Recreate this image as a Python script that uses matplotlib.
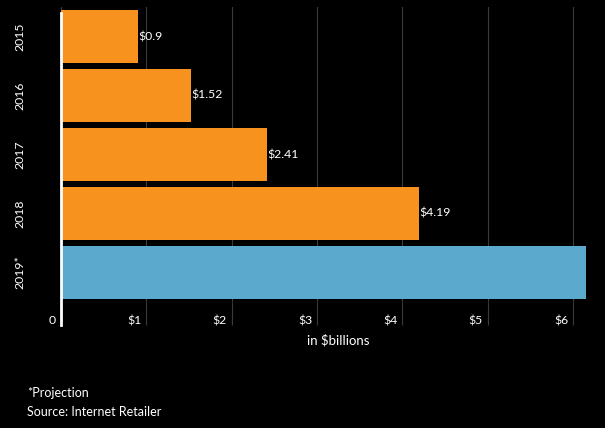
import matplotlib.pyplot as plt
from matplotlib.transforms import offset_copy

plt.rcParams['font.family'] = ['Lato', 'DejaVu Sans']

years = ["2015", "2016", "2017", "2018", "2019*"]
sales = [0.9, 1.52, 2.41, 4.19, 6.15]
value_labels = ["$0.9", "$1.52", "$2.41", "$4.19", ""]
bar_colors = ["#F7921E", "#F7921E", "#F7921E", "#F7921E", "#5BAACD"]
xticks = [0, 1, 2, 3, 4, 5, 6]
xtick_labels = ["0", "$1", "$2", "$3", "$4", "$5", "$6"]

fig = plt.figure(figsize=(6.05, 4.28), dpi=100, facecolor="black")
ax = fig.add_axes([61 / 605, 1 - 302 / 428, 542 / 605, 295 / 428])
ax.set_facecolor("black")

ypos = list(range(len(years)))
ax.barh(ypos, sales, height=0.9, color=bar_colors, zorder=2)
ax.set_ylim(len(years) - 0.5, -0.5)
ax.set_xlim(0, 6.35)

# value labels just right of bar ends
for y, v, lab in zip(ypos, sales, value_labels):
    ax.annotate(lab, (v, y), xytext=(0.7, 0), textcoords="offset points",
                ha="left", va="center", color="white", fontsize=8.8)

# grid + long ticks reaching down into label area
ax.set_xticks(xticks)
ax.set_xticklabels([])
ax.grid(axis="x", color="#3a3a3a", linewidth=0.8, zorder=0)
ax.tick_params(axis="x", length=16.5, width=0.8, color="#3a3a3a", direction="out")
ax.set_yticks(ypos)
ax.set_yticklabels([])
ax.tick_params(axis="y", length=0)
for s in ax.spines.values():
    s.set_visible(False)

# x tick labels, right-aligned left of each gridline
tx = offset_copy(ax.get_xaxis_transform(), fig=fig, x=-5, y=0, units="dots")
for t, lab in zip(xticks, xtick_labels):
    ax.text(t, -19 / 295, lab, transform=tx, ha="right", va="center",
            color="white", fontsize=8.8)

# year labels, rotated
for y, lab in zip(ypos, years):
    ax.text(-41 / 542, y, lab, transform=ax.get_yaxis_transform(),
            rotation=90, ha="center", va="center", color="white", fontsize=8.8)

# white y axis line
ax.plot([0, 0], [0.98, -0.078], transform=ax.get_xaxis_transform(),
        color="white", linewidth=2, clip_on=False, zorder=5)

fig.text(338 / 605, 1 - 340 / 428, "in $billions", ha="center", va="center",
         color="white", fontsize=9.5)
fig.text(27 / 605, 1 - 393 / 428, "*Projection", ha="left", va="center",
         color="white", fontsize=9)
fig.text(27 / 605, 1 - 412 / 428, "Source: Internet Retailer", ha="left", va="center",
         color="white", fontsize=9)

fig.savefig("out.png", dpi=100, facecolor="black")
